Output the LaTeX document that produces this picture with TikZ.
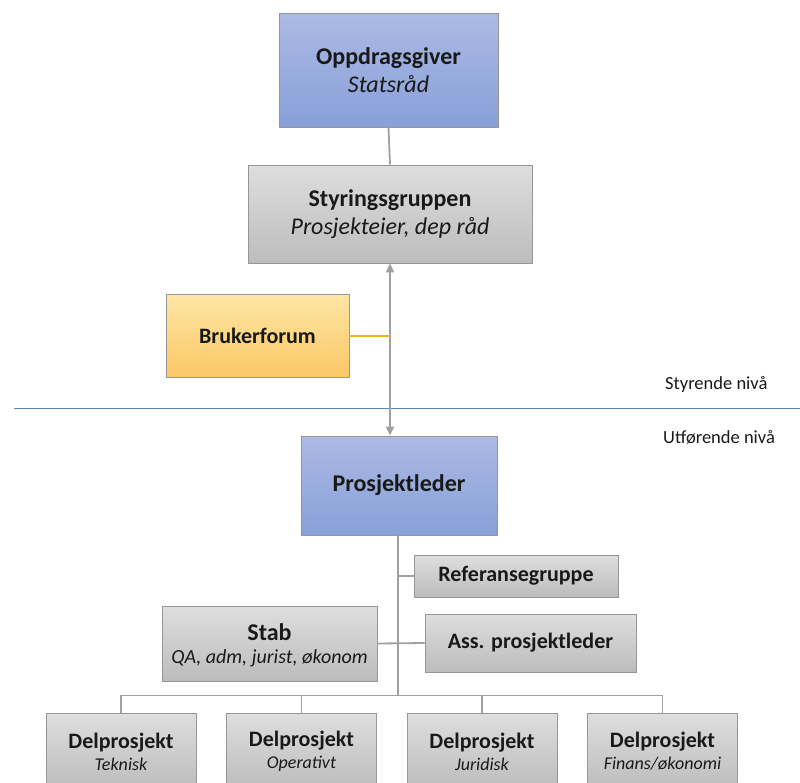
\documentclass[tikz,border=0pt]{standalone}
\usepackage{fontspec}
\setmainfont{Carlito}
\usetikzlibrary{arrows.meta}
\definecolor{bluetop}{RGB}{172,186,228}
\definecolor{bluebot}{RGB}{136,159,216}
\definecolor{greytop}{RGB}{222,222,222}
\definecolor{greybot}{RGB}{188,188,188}
\definecolor{yeltop}{RGB}{253,230,165}
\definecolor{yelbot}{RGB}{252,199,102}
\definecolor{edge}{RGB}{150,150,150}
\definecolor{conn}{RGB}{160,160,160}
\definecolor{yelline}{RGB}{240,180,20}
\definecolor{sepline}{RGB}{95,135,180}
\definecolor{ink}{RGB}{25,25,25}
\tikzset{
  box/.style={draw=edge, line width=0.8pt, rectangle, align=center, text=ink, inner sep=2pt},
  bluebox/.style={box, top color=bluetop, bottom color=bluebot},
  greybox/.style={box, top color=greytop, bottom color=greybot},
  yelbox/.style={box, top color=yeltop, bottom color=yelbot},
  conn/.style={draw=conn, line width=1.8pt},
  yconn/.style={color=yelline, line width=2pt},
  lvl/.style={text=ink, font=\fontsize{18.5}{22}\selectfont, inner sep=0pt}
}
\newcommand{\ttl}[1]{{\bfseries #1}}
\newcommand{\sub}[1]{{\itshape #1}}
\begin{document}
\begin{tikzpicture}[x=1pt,y=-1pt]
\useasboundingbox (0,0) rectangle (800,782);
\clip (0,0) rectangle (800,782);
\fill[white] (0,0) rectangle (800,782);

% governing level
\node[bluebox, minimum width=219, minimum height=114, font=\fontsize{24}{28}\selectfont] (og) at (388.5,70)
  {\ttl{Oppdragsgiver}\\\sub{Statsråd}};
\node[greybox, minimum width=284, minimum height=98, font=\fontsize{24}{28}\selectfont] (sg) at (390,214)
  {\ttl{Styringsgruppen}\\\sub{Prosjekteier, dep råd}};
\node[yelbox, minimum width=183, minimum height=83, font=\fontsize{22}{26}\selectfont] (bf) at (257.5,335.5)
  {\ttl{Brukerforum}};

% level separator
\coordinate (sepL) at (14,408);
\coordinate (sepR) at (800,408);
\draw[sepline, line width=1pt] (sepL) -- (sepR);
\node[lvl, anchor=west] (styr) at (665,384) {Styrende nivå};
\node[lvl, anchor=west] (utf) at (663,437) {Utførende nivå};

% executing level
\node[bluebox, minimum width=196, minimum height=99, font=\fontsize{24}{28}\selectfont] (pl) at (399,485.5)
  {\ttl{Prosjektleder}};
\node[greybox, minimum width=204, minimum height=42, font=\fontsize{22}{26}\selectfont] (rg) at (516,576)
  {\ttl{Referansegruppe}};
\node[greybox, minimum width=215, minimum height=75] (stab) at (269.5,643.5) {};
\node[text=ink, align=center, font=\fontsize{20}{23}\selectfont, inner sep=0pt] (stabtxt) at ([yshift=-2]stab.center)
  {{\fontsize{24}{28}\selectfont\ttl{Stab}}\\{\sub{QA, adm, jurist, økonom}}};
\node[greybox, minimum width=211, minimum height=58, font=\fontsize{22}{26}\selectfont] (ass) at (530.5,643)
  {\ttl{Ass. prosjektleder}};

\foreach \n/\cx/\s in {d1/121/Teknisk, d2/301.5/Operativt, d3/482/Juridisk, d4/662.5/Finans\slash økonomi}{
  \node[greybox, minimum width=150, minimum height=77, font=\fontsize{18}{22}\selectfont] (\n) at (\cx,751.5)
    {{\fontsize{22}{26}\selectfont\ttl{Delprosjekt}}\\\sub{\s}};
}

% connectors
\draw[conn] (og.south) -- (sg.north);
\draw[conn, {Triangle[length=9pt,width=8pt]}-{Triangle[length=9pt,width=8pt]}] (sg.south) -- (sg.south |- pl.north);
\draw[yconn] (bf.east) -- (bf.east -| sg.south);

\coordinate (bus) at (398,695.5);
\draw[conn] (pl.south -| bus) -- (bus);
\draw[conn] (rg.west) -- (rg.west -| bus);
\draw[conn] (stab.east) -- (ass.west);
\draw[conn] (d1.north) -- (d1.north |- bus) -- (d4.north |- bus) -- (d4.north);
\draw[conn] (d2.north) -- (d2.north |- bus);
\draw[conn] (d3.north) -- (d3.north |- bus);
\end{tikzpicture}
\end{document}
